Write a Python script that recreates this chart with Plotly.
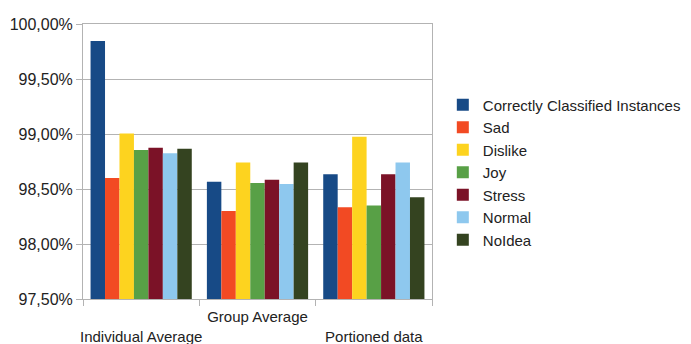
import plotly.graph_objects as go

categories = ["Individual Average", "Group Average", "Portioned data"]
tick_labels = ["<br>Individual Average", "Group Average", "<br>Portioned data"]

series_names = ["Correctly Classified Instances", "Sad", "Dislike", "Joy",
                "Stress", "Normal", "NoIdea"]
series_values = {
    "Correctly Classified Instances": [99.845, 98.565, 98.635],
    "Sad": [98.600, 98.300, 98.333],
    "Dislike": [99.005, 98.740, 98.975],
    "Joy": [98.855, 98.555, 98.350],
    "Stress": [98.875, 98.585, 98.635],
    "Normal": [98.825, 98.545, 98.740],
    "NoIdea": [98.865, 98.740, 98.425],
}
series_colors = ["#174a86", "#f24a23", "#fdd31f", "#58a046",
                 "#7b1227", "#8ec8ee", "#344320"]

y_ticks = [97.5, 98.0, 98.5, 99.0, 99.5, 100.0]
y_tick_labels = ["97,50%", "98,00%", "98,50%", "99,00%", "99,50%", "100,00%"]

fig = go.Figure()
for name, color in zip(series_names, series_colors):
    fig.add_trace(go.Bar(
        x=categories,
        y=series_values[name],
        name=name,
        marker=dict(color=color, line=dict(width=0)),
    ))

fig.update_layout(
    width=691,
    height=344,
    barmode="group",
    bargap=0.13,
    bargroupgap=0,
    plot_bgcolor="white",
    paper_bgcolor="white",
    font=dict(family="Liberation Sans, Arial, sans-serif", size=15, color="#222222"),
    margin=dict(l=83, r=259, t=24, b=45, autoexpand=False),
    showlegend=True,
    legend=dict(
        x=1.031, xanchor="left",
        y=0.46, yanchor="middle",
        font=dict(size=15, color="#222222"),
        itemwidth=30,
        traceorder="normal",
    ),
    xaxis=dict(
        tickmode="array",
        tickvals=categories,
        ticktext=tick_labels,
        tickangle=0,
        tickfont=dict(size=15),
        automargin=False,
        ticks="outside",
        tickson="boundaries",
        ticklen=6,
        tickcolor="#b3b3b3",
        ticklabelstandoff=4,
        showline=True,
        linecolor="#b3b3b3",
        mirror=True,
        showgrid=False,
    ),
    yaxis=dict(
        range=[97.5, 100.0],
        tickmode="array",
        tickvals=y_ticks,
        ticktext=y_tick_labels,
        tickfont=dict(size=16),
        automargin=False,
        ticks="outside",
        ticklen=6,
        tickcolor="#b3b3b3",
        showline=True,
        linecolor="#b3b3b3",
        mirror=True,
        showgrid=True,
        gridcolor="#b3b3b3",
        zeroline=False,
    ),
)

fig.write_html("out.html")
